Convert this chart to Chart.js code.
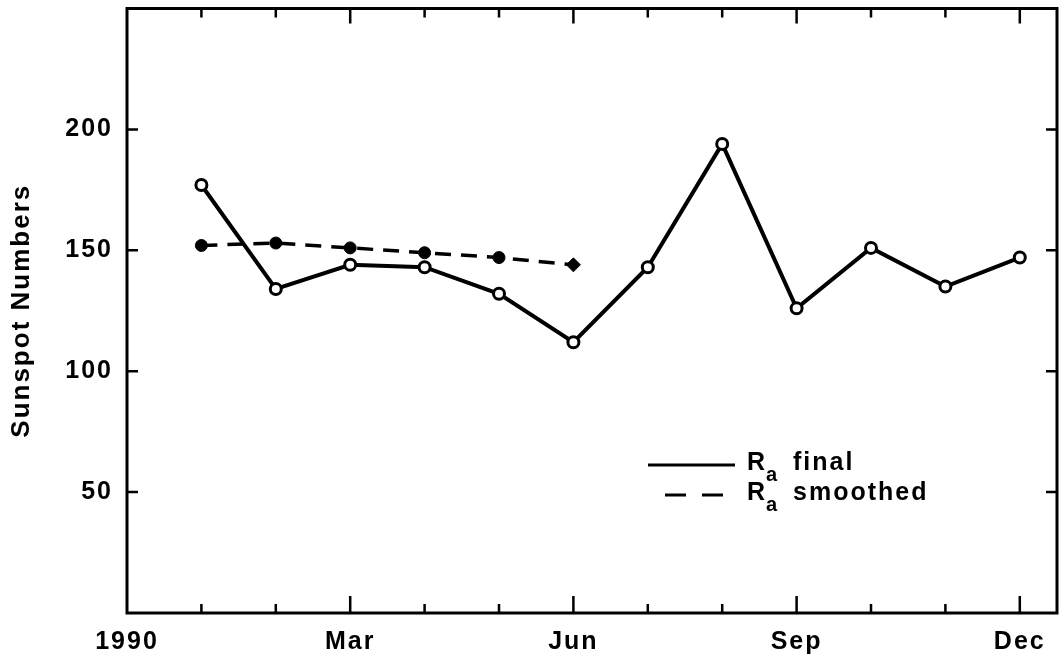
<!DOCTYPE html>
<html>
<head>
<meta charset="utf-8">
<script src="https://cdn.jsdelivr.net/npm/chart.js@4/dist/chart.umd.min.js"></script>
<style>
  html, body { margin: 0; padding: 0; background: #fff; }
  #wrap { width: 1060px; height: 658px; position: relative; }
</style>
</head>
<body>
<div id="wrap"><canvas id="c" width="1060" height="658"></canvas></div>
<script>
// ---- data ----
const months = [1, 2, 3, 4, 5, 6, 7, 8, 9, 10, 11, 12];
const finalValues = [177, 134, 144, 143, 132, 112, 143, 194, 126, 151, 135, 147];
const smoothedMonths = [1, 2, 3, 4, 5, 6];
const smoothedValues = [152, 153, 151, 149, 147, 144];
const xTickValues = [0, 1, 2, 3, 4, 5, 6, 7, 8, 9, 10, 11, 12];
const xTickLabels = { 0: '1990', 3: 'Mar', 6: 'Jun', 9: 'Sep', 12: 'Dec' };
const majorMonths = [3, 6, 9, 12];
const yTickValues = [50, 100, 150, 200];
const seriesLabels = ['final', 'smoothed'];
const yTitle = 'Sunspot Numbers';

const FONT = 'Liberation Sans, Arial, Helvetica, sans-serif';
const RIGHT_GAP = 3;

const framePlugin = {
  id: 'frame',
  afterLayout(chart) {
    // pin the right edge of the plot area
    const xs = chart.scales.x;
    const r = chart.width - RIGHT_GAP;
    chart.chartArea.right = r;
    chart.chartArea.width = r - chart.chartArea.left;
    xs.right = r;
    xs.width = r - xs.left;
    xs.configure();
  },
  beforeDraw(chart) {
    chart.ctx.letterSpacing = '2px';
  },
  beforeDatasetsDraw(chart) {
    const ctx = chart.ctx;
    const a = chart.chartArea;
    const xs = chart.scales.x, ys = chart.scales.y;
    ctx.save();
    ctx.strokeStyle = '#000';
    ctx.lineWidth = 3;
    ctx.strokeRect(a.left, a.top, a.right - a.left, a.bottom - a.top);
    ctx.lineWidth = 2.5;
    ctx.beginPath();
    months.forEach(m => {
      const px = xs.getPixelForValue(m);
      const major = majorMonths.includes(m);
      const lb = major ? 17 : 9;
      const lt = major ? 15 : 9;
      ctx.moveTo(px, a.bottom); ctx.lineTo(px, a.bottom - lb);
      ctx.moveTo(px, a.top); ctx.lineTo(px, a.top + lt);
    });
    yTickValues.forEach(v => {
      const py = ys.getPixelForValue(v);
      ctx.moveTo(a.left, py); ctx.lineTo(a.left + 11, py);
      ctx.moveTo(a.right, py); ctx.lineTo(a.right - 11, py);
    });
    ctx.stroke();
    ctx.restore();
  },
  afterDraw(chart) {
    const ctx = chart.ctx;
    ctx.save();
    ctx.fillStyle = '#000';
    ctx.strokeStyle = '#000';
    ctx.lineWidth = 3;
    ctx.beginPath();
    ctx.moveTo(648, 465); ctx.lineTo(735, 465);
    ctx.stroke();
    ctx.setLineDash([21, 16]);
    ctx.beginPath();
    ctx.moveTo(665, 495); ctx.lineTo(724, 495);
    ctx.stroke();
    ctx.setLineDash([]);
    const rows = [470, 500];
    seriesLabels.forEach((lab, i) => {
      const base = rows[i];
      ctx.letterSpacing = '2px';
      ctx.font = 'bold 25px ' + FONT;
      ctx.textAlign = 'left';
      ctx.textBaseline = 'alphabetic';
      ctx.fillText('R', 747, base);
      ctx.font = 'bold 20px ' + FONT;
      ctx.fillText('a', 766, base + 11);
      ctx.font = 'bold 25px ' + FONT;
      ctx.fillText(lab, 793, base);
    });
    ctx.restore();
  }
};

const finalData = months.map((m, i) => ({ x: m, y: finalValues[i] }));
const smoothedData = smoothedMonths.map((m, i) => ({ x: m, y: smoothedValues[i] }));

new Chart(document.getElementById('c'), {
  type: 'line',
  data: {
    datasets: [
      {
        label: seriesLabels[0],
        data: finalData,
        borderColor: '#000',
        borderWidth: 4,
        pointRadius: 5.5,
        pointBorderWidth: 3,
        pointBackgroundColor: '#fff',
        pointBorderColor: '#000',
        tension: 0
      },
      {
        label: seriesLabels[1],
        data: smoothedData,
        borderColor: '#000',
        borderWidth: 3.5,
        borderDash: [16, 10],
        pointRadius: smoothedMonths.map((m, i) => i === smoothedMonths.length - 1 ? 7 : 6),
        pointStyle: smoothedMonths.map((m, i) => i === smoothedMonths.length - 1 ? 'rectRot' : 'circle'),
        pointBorderWidth: 1,
        pointBackgroundColor: '#000',
        pointBorderColor: '#000',
        tension: 0
      }
    ]
  },
  options: {
    responsive: false,
    animation: false,
    events: [],
    layout: { padding: { top: 7, right: RIGHT_GAP, left: 0, bottom: 0 } },
    plugins: { legend: { display: false }, tooltip: { enabled: false } },
    scales: {
      x: {
        type: 'linear',
        min: 0,
        max: 12.5,
        afterBuildTicks: s => { s.ticks = xTickValues.map(v => ({ value: v })); },
        afterFit: s => { s.height = 45; s.paddingLeft = 0; s.paddingRight = 0; },
        grid: { display: false, drawTicks: false },
        border: { display: false },
        ticks: {
          autoSkip: false,
          maxRotation: 0,
          minRotation: 0,
          padding: 14,
          color: '#000',
          font: { family: FONT, size: 25, weight: 'bold' },
          callback: v => xTickLabels[v] || ''
        }
      },
      y: {
        min: 0,
        max: 250,
        afterBuildTicks: s => { s.ticks = yTickValues.map(v => ({ value: v })); },
        afterFit: s => { s.width = 127; s.paddingTop = 0; s.paddingBottom = 0; },
        grid: { display: false, drawTicks: false },
        border: { display: false },
        title: {
          display: true,
          text: yTitle,
          color: '#000',
          font: { family: FONT, size: 26, weight: 'bold' },
          padding: { top: 6, bottom: 0 }
        },
        ticks: {
          padding: 14,
          color: '#000',
          font: { family: FONT, size: 25, weight: 'bold' }
        }
      }
    }
  },
  plugins: [framePlugin]
});
</script>
</body>
</html>
